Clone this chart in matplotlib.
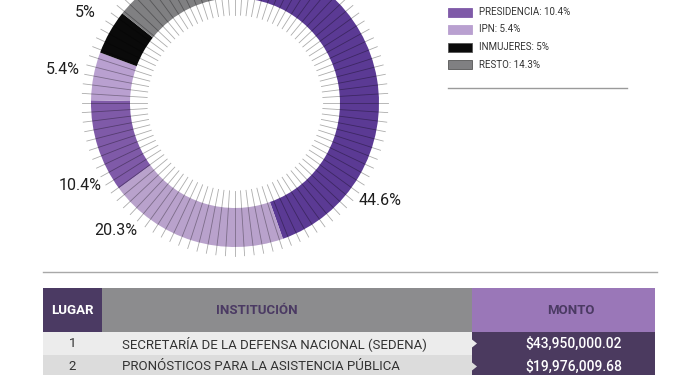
import numpy as np
import matplotlib.pyplot as plt
from matplotlib.patches import Rectangle, Polygon

plt.rcParams['font.family'] = ['Roboto', 'DejaVu Sans']

# donut data
names = ['SEDENA', 'PRONÓSTICOS', 'PRESIDENCIA', 'IPN', 'INMUJERES', 'RESTO']
shares = [44.6, 20.3, 10.4, 5.4, 5, 14.3]
colors = ['#5b3a94', '#b9a2cc', '#7f5aa8', '#b9a0d0', '#0a0a0a', '#808082']
pct_labels = ['44.6%', '20.3%', '10.4%', '5.4%', '5%', None]
label_angle = [124, 223, 242, 281, 301, None]   # degrees clockwise from top
legend_idx = [2, 3, 4, 5]

# table data
rank = ['1', '2']
institution = ['SECRETARÍA DE LA DEFENSA NACIONAL (SEDENA)',
               'PRONÓSTICOS PARA LA ASISTENCIA PÚBLICA']
amount = ['$43,950,000.02', '$19,976,009.68']

fig = plt.figure(figsize=(7, 3.75), dpi=100)
ax = fig.add_axes([0, 0, 1, 1])

cx, cy, R, W = 235, 103, 144, 39
ax.pie(shares, colors=colors, center=(cx, cy), radius=R, startangle=-90,
       counterclock=True, wedgeprops=dict(width=W, linewidth=0))

# radial ticks over the ring
for a in np.linspace(0, 2 * np.pi, 100, endpoint=False):
    dx, dy = np.sin(a), -np.cos(a)
    ax.plot([cx + 88 * dx, cx + 153 * dx], [cy + 88 * dy, cy + 153 * dy],
            color='black', alpha=0.33, lw=0.6, zorder=3)

for lab, ang in zip(pct_labels, label_angle):
    if lab is None:
        continue
    a = np.radians(ang)
    ax.text(cx + 175 * np.sin(a), cy - 175 * np.cos(a), lab, fontsize=11.5,
            color='#1e1e1e', ha='center', va='center')

# legend
for k, i in enumerate(legend_idx):
    y = 12 + k * 17.5
    ax.add_patch(Rectangle((448, y - 4.5), 24, 9, facecolor=colors[i],
                           edgecolor='#555555' if i >= 4 else colors[i], lw=0.6))
    ax.text(479, y, f'{names[i]}: {shares[i]:g}%', fontsize=7, color='#333333',
            va='center', ha='left')
ax.plot([448, 627], [88, 88], color='#9a9a9a', lw=1)

# separator
ax.plot([43, 657], [272, 272], color='#a8a8a8', lw=1)

# table
x0, x1, x2, x3 = 43, 102, 472, 655
hy0, hy1 = 288, 332
rh = 23
ax.add_patch(Rectangle((x0, hy0), x1 - x0, hy1 - hy0, color='#4b3a63', lw=0))
ax.add_patch(Rectangle((x1, hy0), x2 - x1, hy1 - hy0, color='#8c8c8e', lw=0))
ax.add_patch(Rectangle((x2, hy0), x3 - x2, hy1 - hy0, color='#9a77b8', lw=0))
ax.text((x0 + x1) / 2, (hy0 + hy1) / 2, 'LUGAR', color='white', fontsize=9.5,
        fontweight='bold', ha='center', va='center')
ax.text(257, (hy0 + hy1) / 2, 'INSTITUCIÓN', color='#4b3a63', fontsize=9.5,
        fontweight='bold', ha='center', va='center')
ax.text((x2 + x3) / 2 + 7, (hy0 + hy1) / 2, 'MONTO', color='#4b3a63', fontsize=9.5,
        fontweight='bold', ha='center', va='center')

row_bg = ['#ececec', '#dcdcdc']
for r in range(len(rank)):
    y0 = hy1 + r * rh
    ym = y0 + rh / 2
    ax.add_patch(Rectangle((x0, y0), x2 - x0, rh, color=row_bg[r % 2], lw=0))
    ax.add_patch(Rectangle((x2, y0), x3 - x2, rh, color='#4b3a5f', lw=0))
    ax.add_patch(Polygon([(x2, ym - 4), (x2 + 5, ym), (x2, ym + 4)],
                         color=row_bg[r % 2], lw=0, zorder=3))
    ax.text((x0 + x1) / 2, ym, rank[r], fontsize=9.5, color='#333333',
            ha='center', va='center')
    ax.text(122, ym, institution[r], fontsize=9.5, color='#333333',
            ha='left', va='center')
    ax.text(574, ym, amount[r], fontsize=10, fontweight='medium', color='white',
            ha='center', va='center')

ax.set_xlim(0, 700)
ax.set_ylim(375, 0)
ax.set_aspect('equal')
ax.axis('off')

fig.savefig('out.png', dpi=100)
